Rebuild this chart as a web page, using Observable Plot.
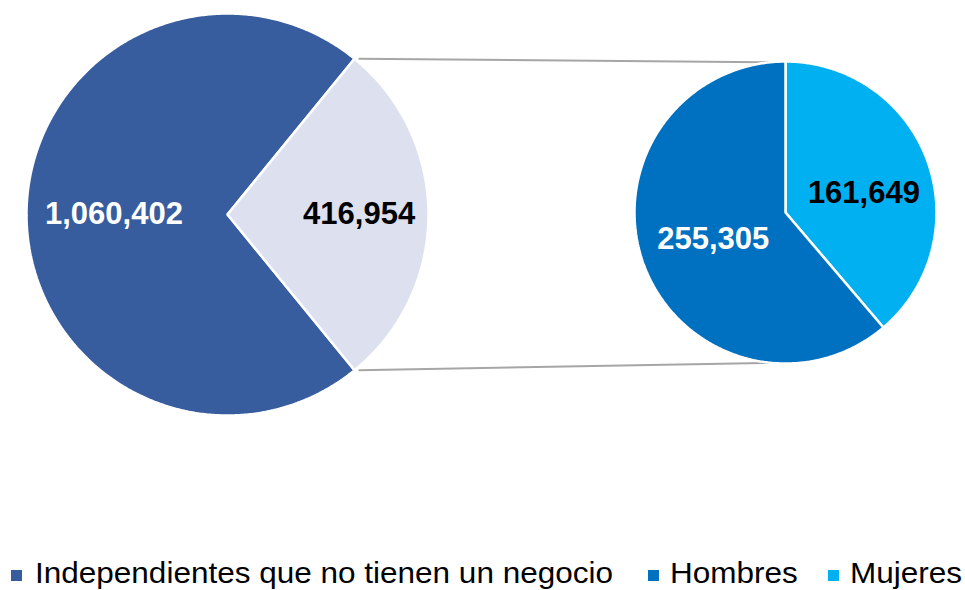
<!DOCTYPE html>
<html>
<head>
<meta charset="utf-8">
<script src="https://cdn.jsdelivr.net/npm/d3@7"></script>
<script src="https://cdn.jsdelivr.net/npm/@observablehq/plot@0.6"></script>
<style>
  html, body { margin: 0; padding: 0; background: #fff; overflow: hidden; }
  #wrap { width: 965px; height: 590px; position: relative; font-family: "Liberation Sans", Arial, sans-serif; }
  #legend { position: relative; width: 965px; height: 35px; overflow: hidden; }
  .mk { position: absolute; top: 15px; width: 11px; height: 11px; }
  .lt { position: absolute; top: 3px; font-size: 30px; line-height: 30px; color: #000; white-space: nowrap; transform: scaleX(1.05); transform-origin: left center; }
</style>
</head>
<body>
<div id="wrap">
  <div id="chart"></div>
  <div id="legend"></div>
</div>
<script>
// ---- data ----
const mainLabels = ["Independientes que no tienen un negocio", "Independientes que tienen un negocio"];
const mainValues = [1060402, 416954];
const mainColors = ["#385D9F", "#DDE1EF"];
const mainTextColors = ["#ffffff", "#000000"];

const splitLabels = ["Mujeres", "Hombres"];
const splitValues = [161649, 255305];
const splitColors = ["#00B0F0", "#0070C0"];
const splitTextColors = ["#000000", "#ffffff"];

const legendLabels = ["Independientes que no tienen un negocio", "Hombres", "Mujeres"];
const legendColors = ["#385D9F", "#0070C0", "#00B0F0"];

// ---- layout ----
const W = 965, H = 555;
const L = {cx: 227, cy: 214, r: 201};
const R = {cx: 785, cy: 212, r: 151};
const fmt = d3.format(",");

const total = d3.sum(mainValues);
const half = Math.PI * mainValues[1] / total;
const pieL = d3.pie().sort(null)
  .startAngle(Math.PI / 2 + half)
  .endAngle(Math.PI / 2 + half + 2 * Math.PI)(mainValues);
const pieR = d3.pie().sort(null).startAngle(0).endAngle(2 * Math.PI)(splitValues);

function polygon(arc, c, key, color) {
  const span = arc.endAngle - arc.startAngle;
  const n = Math.max(2, Math.ceil(span / (Math.PI / 360)));
  const pts = [{x: c.cx, y: c.cy, k: key, col: color}];
  for (let i = 0; i <= n; i++) {
    const a = arc.startAngle + span * i / n;
    pts.push({x: c.cx + c.r * Math.sin(a), y: c.cy - c.r * Math.cos(a), k: key, col: color});
  }
  return pts;
}
const polyL = pieL.flatMap((a, i) => polygon(a, L, "L" + i, mainColors[i]));
const polyR = pieR.flatMap((a, i) => polygon(a, R, "R" + i, splitColors[i]));

function labelPos(arc, c, f, nudge) {
  const a = (arc.startAngle + arc.endAngle) / 2 + nudge;
  return {x: c.cx + c.r * f * Math.sin(a), y: c.cy - c.r * f * Math.cos(a)};
}
const lblFactorsL = [0.565, 0.655];
const lblFactorsR = [0.535, 0.51];
const lblNudgeR = [0.11, 0];
const labels = [
  ...pieL.map((a, i) => ({...labelPos(a, L, lblFactorsL[i], 0), t: fmt(mainValues[i]), col: mainTextColors[i]})),
  ...pieR.map((a, i) => ({...labelPos(a, R, lblFactorsR[i], lblNudgeR[i]), t: fmt(splitValues[i]), col: splitTextColors[i]}))
];

// connector lines: from the split slice edge of the left pie to top/bottom of right pie
const aTop = Math.PI / 2 - half, aBot = Math.PI / 2 + half;
const connectors = [
  {x1: L.cx + L.r * Math.sin(aTop) + 4, y1: L.cy - L.r * Math.cos(aTop), x2: R.cx, y2: R.cy - R.r + 1},
  {x1: L.cx + L.r * Math.sin(aBot) + 4, y1: L.cy - L.r * Math.cos(aBot), x2: R.cx, y2: R.cy + R.r - 1}
];

const chart = Plot.plot({
  width: W, height: H,
  margin: 0,
  x: {domain: [0, W], range: [0, W], axis: null},
  y: {domain: [0, H], range: [0, H], axis: null},
  color: {type: "identity"},
  style: {background: "#fff"},
  marks: [
    Plot.line(polyL, {x: "x", y: "y", z: "k", fill: "col", stroke: "#fff", strokeWidth: 2.5, curve: "linear-closed", strokeLinejoin: "miter"}),
    Plot.link(connectors, {x1: "x1", y1: "y1", x2: "x2", y2: "y2", stroke: "#A6A6A6", strokeWidth: 2}),
    Plot.line(polyR, {x: "x", y: "y", z: "k", fill: "col", stroke: "#fff", strokeWidth: 2.5, curve: "linear-closed", strokeLinejoin: "miter"}),
    Plot.text(labels, {x: "x", y: "y", text: "t", fill: "col", fontSize: 31, fontWeight: "bold",
      fontFamily: "Liberation Sans, Arial, sans-serif", textAnchor: "middle"})
  ]
});
document.getElementById("chart").appendChild(chart);

// legend
const legendMarkerX = [11, 648, 828];
const legendTextX = [35, 670, 850];
const lg = document.getElementById("legend");
legendLabels.forEach((lab, i) => {
  const m = document.createElement("div");
  m.className = "mk";
  m.style.left = legendMarkerX[i] + "px";
  m.style.background = legendColors[i];
  lg.appendChild(m);
  const t = document.createElement("div");
  t.className = "lt";
  t.style.left = legendTextX[i] + "px";
  t.textContent = lab;
  lg.appendChild(t);
});
</script>
</body>
</html>
